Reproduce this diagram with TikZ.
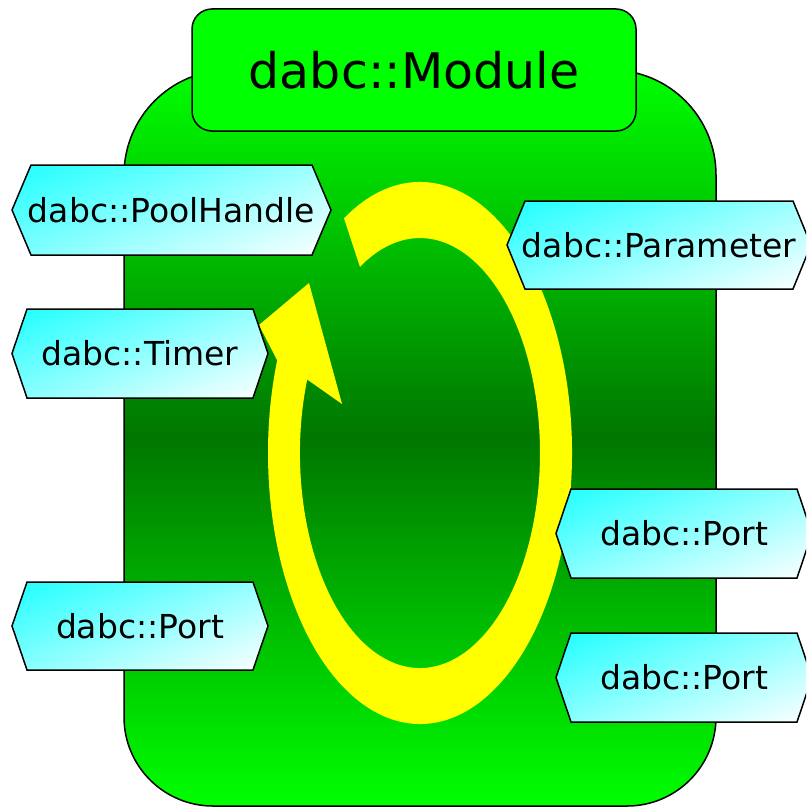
\documentclass[tikz,border=0pt]{standalone}
\usepackage{fontspec}
\setmainfont{DejaVu Sans}
\definecolor{brightgreen}{RGB}{0,255,0}
\definecolor{darkgreen}{RGB}{0,118,0}
\definecolor{hexcyan}{RGB}{30,255,255}
\definecolor{ringyellow}{RGB}{255,255,0}
% hexagonal label: #1 name, #2 left x, #3 right x, #4 top y, #5 bottom y (pixels, downwards), #6 indent, #7 text
\newcommand\hexlabel[7]{%
  \pgfmathsetmacro\hxc{(#2+#3)/2}%
  \pgfmathsetmacro\hyc{-(#4+#5)/2}%
  \pgfmathsetmacro\hext{0.375*(#3-#2)+0.927*(#5-#4)}%
  \begin{scope}
    \clip (#2,\hyc) -- ({#2+#6},-#4) -- ({#3-#6},-#4) -- (#3,\hyc) -- ({#3-#6},-#5) -- ({#2+#6},-#5) -- cycle;
    \begin{scope}[transform canvas={rotate around={22:(\hxc,\hyc)}}]
      \shade[hexgrad] ({\hxc-220},{\hyc+\hext/2}) rectangle ({\hxc+220},{\hyc-\hext/2});
    \end{scope}
  \end{scope}
  \draw[hexline] (#2,\hyc) -- ({#2+#6},-#4) -- ({#3-#6},-#4) -- (#3,\hyc) -- ({#3-#6},-#5) -- ({#2+#6},-#5) -- cycle;
  \node[lbl] (#1) at (\hxc,\hyc) {#7};
}
\begin{document}
\begin{tikzpicture}[x=1pt,y=1pt,
  bodyshade/.style={draw=black, line width=1.5pt, top color=brightgreen, bottom color=brightgreen, middle color=darkgreen},
  titlebox/.style={draw=black, line width=1.5pt, fill=brightgreen, rounded corners=20pt, inner sep=0pt,
    minimum width=444pt, minimum height=122pt, font=\fontsize{49}{57}\selectfont},
  hexgrad/.style={top color=hexcyan, bottom color=white},
  hexline/.style={draw=black, line width=1.5pt, line join=miter},
  lbl/.style={font=\fontsize{33}{40}\selectfont, inner sep=0pt},
  ring/.style={fill=ringyellow}]
\useasboundingbox (0,0) rectangle (806,-808);
\begin{scope}
\clip (0,0) rectangle (806,-808);
% module body
\path[bodyshade] (124,-175) arc[start angle=180, end angle=90, radius=105pt]
  -- (611,-70) arc[start angle=90, end angle=0, radius=105pt]
  -- (716,-717) arc[start angle=0, end angle=-90, radius=89pt]
  -- (213,-806) arc[start angle=270, end angle=180, radius=89pt] -- cycle;
% title
\node[titlebox] (title) at (414,-70) {dabc::Module};
% yellow cycle arrow
\fill[ring] (344,-218.3) arc[start angle=120, end angle=-200, x radius=152pt, y radius=271pt]
  -- (259,-325) -- (309,-283) -- (342,-404) -- (307.2,-379.5)
  arc[start angle=160, end angle=480, x radius=120pt, y radius=215pt] -- cycle;
% labels
\hexlabel{pool}{12}{331}{165}{255}{19}{dabc::PoolHandle}
\hexlabel{timer}{12}{268}{309}{398}{15}{dabc::Timer}
\hexlabel{portL}{12}{268}{582}{670}{15}{dabc::Port}
\hexlabel{param}{507}{811}{201}{289}{18}{dabc::Parameter}
\hexlabel{portR1}{556}{812}{489}{578}{15}{dabc::Port}
\hexlabel{portR2}{556}{812}{633}{722}{15}{dabc::Port}
\end{scope}
\end{tikzpicture}
\end{document}
